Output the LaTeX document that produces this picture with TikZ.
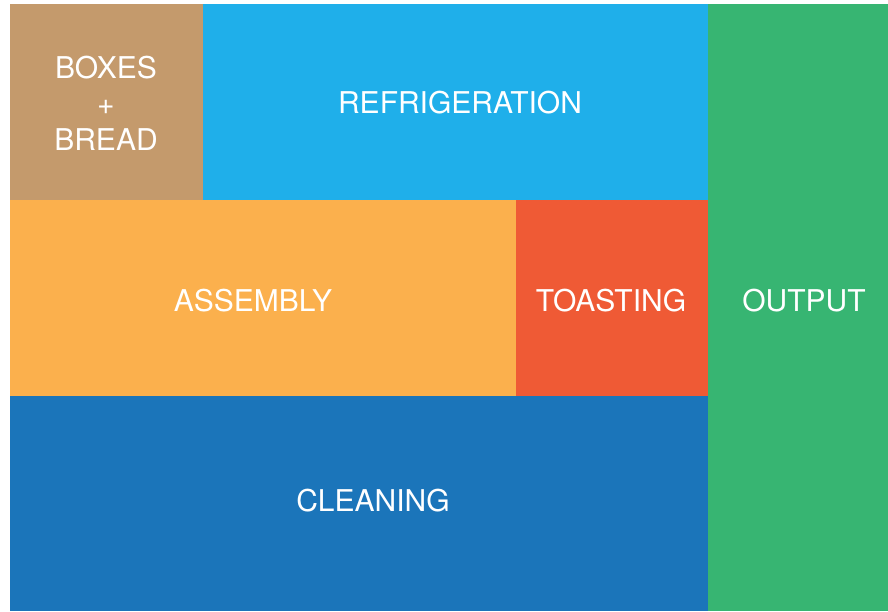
\documentclass[tikz,border=0pt]{standalone}
\usepackage{fontspec}
\setmainfont{TeX Gyre Heros}
\usepackage{xcolor}
\usepackage{tikz}

\definecolor{tanbox}{HTML}{C49A6C}
\definecolor{fridge}{HTML}{1FAFEA}
\definecolor{assy}{HTML}{FBB04D}
\definecolor{toast}{HTML}{EF5A35}
\definecolor{clean}{HTML}{1B75BA}
\definecolor{outgreen}{HTML}{37B572}

\begin{document}
\begin{tikzpicture}[
    x=1pt, y=-1pt,
    area/.style={text=white, font=\fontsize{30}{36}\selectfont, align=center, inner sep=0pt}
]
\useasboundingbox (0,0) rectangle (888,611);

% floor areas
\fill[tanbox]   (10,4)    rectangle (203,200);
\fill[fridge]   (203,4)   rectangle (708,200);
\fill[assy]     (10,200)  rectangle (516,396);
\fill[toast]    (516,200) rectangle (708,396);
\fill[clean]    (10,396)  rectangle (708,611);
\fill[outgreen] (708,4)   rectangle (888,611);

% labels
\node[area] (boxes) at (106,103) {BOXES\\+\\BREAD};
\node[area] (refrig) at (460,103) {REFRIGERATION};
\node[area] (assembly) at (253,301) {ASSEMBLY};
\node[area] (toasting) at (611,301) {TOASTING};
\node[area] (cleaning) at (373,501) {CLEANING};
\node[area] (output) at (804,301) {OUTPUT};

\end{tikzpicture}
\end{document}
